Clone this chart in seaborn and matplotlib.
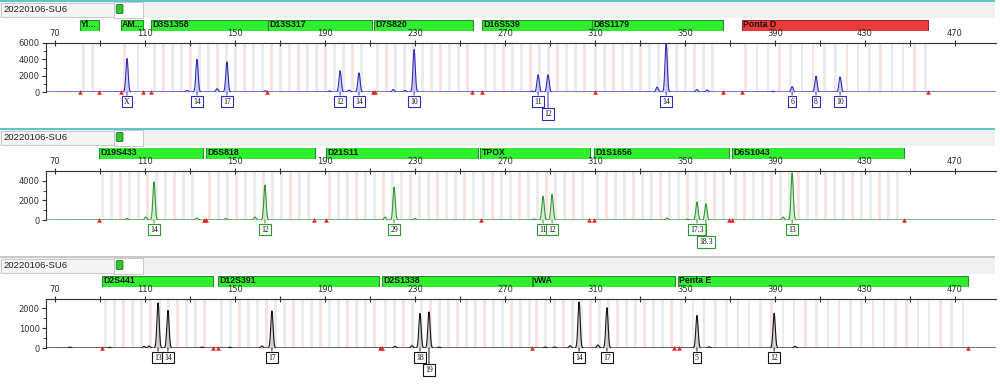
import numpy as np
import pandas as pd
import matplotlib
matplotlib.use("Agg")
import matplotlib.pyplot as plt
import seaborn as sns
from matplotlib.patches import Rectangle, FancyBboxPatch

sns.set_theme(style="white")
plt.rcParams["font.family"] = ["DejaVu Sans"]

W, H = 1000, 384
SAMPLE = "20220106-SU6"
X_TICKS = [70, 110, 150, 190, 230, 270, 310, 350, 390, 430, 470]

# ---------------- Panel 1 : blue dye ----------------
p1_loci = ["Yl...", "AM...", "D3S1358", "D13S317", "D7S820", "D16S539", "D8S1179", "Ponta D"]
p1_loci_start = [81.1, 99.3, 112.7, 164.7, 211.8, 259.8, 308.7, 375.3]
p1_loci_end = [89.6, 109.1, 164.7, 210.9, 255.8, 308.7, 366.9, 458.0]
p1_loci_unit = [4, 6, 4, 4, 4, 4, 4, 5]
p1_loci_ok = [True, True, True, True, True, True, True, False]
p1_alleles = ["X", "14", "17", "12", "14", "10", "11", "12", "14", "6", "8", "10"]
p1_allele_bp = [102.0, 133.1, 146.4, 196.7, 205.1, 229.6, 284.7, 289.1, 341.6, 397.6, 408.2, 418.9]
p1_allele_rfu = [4100, 4000, 3700, 2600, 2350, 5200, 2100, 2100, 5950, 650, 1950, 1850]
p1_allele_row = [0, 0, 0, 0, 0, 0, 0, 1, 0, 0, 0, 0]
p1_minor_bp = [128.7, 142.0, 163.5, 192.0, 200.7, 220.3, 225.6, 282.0, 337.6, 355.3, 359.8, 389.0]
p1_minor_rfu = [200, 400, 150, 150, 250, 300, 200, 120, 600, 300, 250, 100]
p1_artifact_bp = [81.1, 89.6, 99.3, 109.1, 112.7, 164.2, 211.3, 212.4, 255.3, 259.8, 310.0, 366.9, 375.3, 458.0]
p1_yticks = [0, 2000, 4000, 6000]
p1_yminor = [1000, 3000, 5000]
p1_ymax = 6000

# ---------------- Panel 2 : green dye ----------------
p2_loci = ["D19S433", "D5S818", "D21S11", "TPOX", "D1S1656", "D6S1043"]
p2_loci_start = [89.6, 137.1, 190.4, 258.9, 309.6, 370.9]
p2_loci_end = [135.8, 185.6, 258.0, 307.8, 369.6, 447.3]
p2_loci_unit = [4, 4, 4, 4, 4, 4]
p2_loci_ok = [True] * 6
p2_alleles = ["14", "12", "29", "11", "12", "17.3", "18.3", "13"]
p2_allele_bp = [114.0, 163.3, 220.7, 286.9, 290.9, 355.3, 359.3, 397.6]
p2_allele_rfu = [3900, 3560, 3350, 2430, 2600, 1850, 1650, 4800]
p2_allele_row = [0, 0, 0, 0, 0, 0, 1, 0]
p2_minor_bp = [102.0, 110.4, 133.0, 146.0, 158.9, 216.7, 230.0, 282.9, 342.0, 351.0, 393.6]
p2_minor_rfu = [150, 300, 200, 150, 300, 300, 150, 100, 200, 100, 300]
p2_artifact_bp = [89.6, 136.2, 137.1, 185.1, 190.4, 259.3, 307.3, 309.6, 369.6, 370.9, 447.3]
p2_yticks = [0, 2000, 4000]
p2_yminor = [1000, 3000]
p2_ymax = 5000

# ---------------- Panel 3 : black dye ----------------
p3_loci = ["D2S441", "D12S391", "D2S1338", "vWA", "Penta E"]
p3_loci_start = [90.9, 142.4, 215.3, 282.4, 346.9]
p3_loci_end = [140.2, 214.0, 282.0, 345.6, 475.8]
p3_loci_unit = [4, 4, 4, 4, 5]
p3_loci_ok = [True] * 5
p3_alleles = ["13", "14", "17", "18", "19", "14", "17", "5", "12"]
p3_allele_bp = [115.8, 120.2, 166.4, 232.2, 236.2, 302.9, 315.3, 355.3, 389.6]
p3_allele_rfu = [2260, 1880, 1850, 1730, 1800, 2300, 2015, 1630, 1730]
p3_allele_row = [0, 0, 0, 0, 1, 0, 0, 0, 0]
p3_minor_bp = [76.7, 94.4, 109.6, 111.8, 135.3, 147.8, 162.0, 221.1, 228.7, 240.7,
               287.8, 292.0, 298.9, 311.3, 360.7, 398.9]
p3_minor_rfu = [50, 40, 80, 100, 50, 40, 100, 80, 120, 50, 50, 50, 120, 150, 60, 80]
p3_artifact_bp = [90.9, 140.2, 142.4, 214.4, 215.3, 282.0, 345.1, 347.3, 475.8]
p3_yticks = [0, 1000, 2000]
p3_yminor = [500, 1500]
p3_ymax = 2450

panels = [
    dict(loci=p1_loci, ls=p1_loci_start, le=p1_loci_end, lu=p1_loci_unit, lok=p1_loci_ok,
         al=p1_alleles, abp=p1_allele_bp, arfu=p1_allele_rfu, arow=p1_allele_row,
         mbp=p1_minor_bp, mrfu=p1_minor_rfu, art=p1_artifact_bp,
         yt=p1_yticks, ym=p1_yminor, ymax=p1_ymax,
         color="#2f2fb8", fill="#a4a4f0", top="#5cc6d0"),
    dict(loci=p2_loci, ls=p2_loci_start, le=p2_loci_end, lu=p2_loci_unit, lok=p2_loci_ok,
         al=p2_alleles, abp=p2_allele_bp, arfu=p2_allele_rfu, arow=p2_allele_row,
         mbp=p2_minor_bp, mrfu=p2_minor_rfu, art=p2_artifact_bp,
         yt=p2_yticks, ym=p2_yminor, ymax=p2_ymax,
         color="#2e9a2e", fill="#b0e0b0", top="#5cc6d0"),
    dict(loci=p3_loci, ls=p3_loci_start, le=p3_loci_end, lu=p3_loci_unit, lok=p3_loci_ok,
         al=p3_alleles, abp=p3_allele_bp, arfu=p3_allele_rfu, arow=p3_allele_row,
         mbp=p3_minor_bp, mrfu=p3_minor_rfu, art=p3_artifact_bp,
         yt=p3_yticks, ym=p3_yminor, ymax=p3_ymax,
         color="#151515", fill="#b0b0b0", top="#c8c8c8"),
]

XMIN, XMAX = 66.0, 488.2
AX_L, AX_W = 46, 950

fig = plt.figure(figsize=(W / 100, H / 100), dpi=100)
fig.patch.set_facecolor("white")


def frect(x, y, w, h, **kw):
    r = Rectangle((x / W, 1 - (y + h) / H), w / W, h / H, transform=fig.transFigure, **kw)
    fig.add_artist(r)
    return r


def ftext(x, y, s, **kw):
    return fig.text(x / W, 1 - y / H, s, **kw)


for i, p in enumerate(panels):
    T = 128 * i
    # ---- header strip ----
    frect(0, T + 2, 995, 15.5, facecolor="#f0f0f0", edgecolor="none", lw=0)
    frect(0, T + 0.3, 995, 1.3, facecolor=p["top"], edgecolor="none", lw=0)
    frect(0.5, T + 2.5, 113, 14.5, facecolor="#f4f4f4", edgecolor="#c9c9c9", lw=0.7)
    frect(113.5, T + 2, 29, 15.5, facecolor="white", edgecolor="#c9c9c9", lw=0.7)
    icon = FancyBboxPatch(((116.2) / W, 1 - (T + 13.5) / H), 6.8 / W, 9 / H,
                          boxstyle="round,pad=0,rounding_size=0.002",
                          transform=fig.transFigure, facecolor="#2fc42f",
                          edgecolor="#1c7a1c", lw=0.6)
    fig.add_artist(icon)
    ftext(3, T + 9.5, SAMPLE, fontsize=6.8, color="#222222", va="center", ha="left",
          family="Liberation Sans")

    # ---- locus bars ----
    lax = fig.add_axes([AX_L / W, 1 - (T + 30.5) / H, AX_W / W, 11 / H])
    lax.set_xlim(XMIN, XMAX)
    lax.set_ylim(-0.5, 0.5)
    lax.axis("off")
    widths = [e - s for s, e in zip(p["ls"], p["le"])]
    bar_colors = ["#2ff02f" if ok else "#ee3a3a" for ok in p["lok"]]
    edge_colors = ["#2a8a2a" if ok else "#9a2a2a" for ok in p["lok"]]
    lax.barh([0] * len(widths), widths, left=p["ls"], height=1.0,
             color=bar_colors, edgecolor=edge_colors, linewidth=0.8)
    for name, s in zip(p["loci"], p["ls"]):
        lax.text(s + 0.6, 0.02, name, fontsize=6.3, fontweight="bold", color="#141414",
                 va="center", ha="left", family="Liberation Sans")

    # ---- main electropherogram axes ----
    ax = fig.add_axes([AX_L / W, 1 - (T + 92) / H, AX_W / W, 49 / H])
    ax.set_xlim(XMIN, XMAX)
    ax.set_ylim(0, p["ymax"])
    ax.set_facecolor("white")

    # bins (ladder positions)
    k = 0
    for s, e, u in zip(p["ls"], p["le"], p["lu"]):
        for b in np.arange(s + 1.6, e - 0.8, u):
            col = "#f9e2e2" if k % 3 == 2 else "#ececec"
            ax.axvspan(b - 0.55, b + 0.55, color=col, lw=0, zorder=0)
            k += 1

    # trace built from peak list
    xs = np.arange(XMIN, XMAX, 0.04)
    ys = np.zeros_like(xs)
    for mu, h in zip(list(p["abp"]) + list(p["mbp"]), list(p["arfu"]) + list(p["mrfu"])):
        ys += h * np.exp(-0.5 * ((xs - mu) / 0.5) ** 2)
    df = pd.DataFrame({"bp": xs, "rfu": ys})
    ax.axhline(0, color="#5a5a5a", lw=0.9, zorder=2)
    ax.fill_between(xs, 0, ys, color=p["fill"], alpha=0.55, lw=0, zorder=2)
    sns.lineplot(data=df, x="bp", y="rfu", ax=ax, color=p["color"], lw=0.8,
                 estimator=None, sort=False, zorder=3)

    # artifact triangles
    art = pd.DataFrame({"bp": p["art"], "rfu": [0.0] * len(p["art"])})
    sns.scatterplot(data=art, x="bp", y="rfu", ax=ax, marker="^", s=9, color="#e02222",
                    edgecolor="#e02222", linewidth=0.2, zorder=4, clip_on=False)

    # allele labels
    for lab, bp, row in zip(p["al"], p["abp"], p["arow"]):
        dy = -9.5 if row == 0 else -22
        ax.annotate(lab, xy=(bp, 0), xycoords="data", xytext=(0, dy),
                    textcoords="offset pixels", ha="center", va="center",
                    fontsize=5.6, family="Liberation Serif", color="#111111",
                    bbox=dict(boxstyle="square,pad=0.25", fc="white", ec=p["color"], lw=0.8),
                    arrowprops=dict(arrowstyle="-", color=p["color"], lw=0.7,
                                    shrinkA=0, shrinkB=0),
                    annotation_clip=False, zorder=5)

    # axes styling
    ax.set_xlabel("")
    ax.set_ylabel("")
    for sp in ["right", "bottom"]:
        ax.spines[sp].set_visible(False)
    for sp in ["top", "left"]:
        ax.spines[sp].set_visible(True)
        ax.spines[sp].set_color("#303030")
        ax.spines[sp].set_linewidth(0.8)
    ax.xaxis.set_ticks_position("top")
    ax.xaxis.set_label_position("top")
    ax.set_xticks(X_TICKS)
    ax.set_xticks([t + 20 for t in X_TICKS[:-1]], minor=True)
    ax.set_xticklabels([str(t) for t in X_TICKS])
    ax.tick_params(axis="x", which="both", direction="inout", length=4, width=0.8,
                   colors="#303030", labelsize=6, pad=1.5, top=True, bottom=False,
                   labeltop=True, labelbottom=False)
    ax.set_yticks(p["yt"])
    ax.set_yticks(p["ym"], minor=True)
    ax.set_yticklabels([str(t) for t in p["yt"]])
    ax.tick_params(axis="y", which="major", direction="out", length=3, width=0.8,
                   colors="#303030", labelsize=6, pad=1.5, left=True)
    ax.tick_params(axis="y", which="minor", direction="out", length=2, width=0.6,
                   colors="#303030", left=True)
    ax.grid(False)

fig.savefig("out.png", dpi=100)
